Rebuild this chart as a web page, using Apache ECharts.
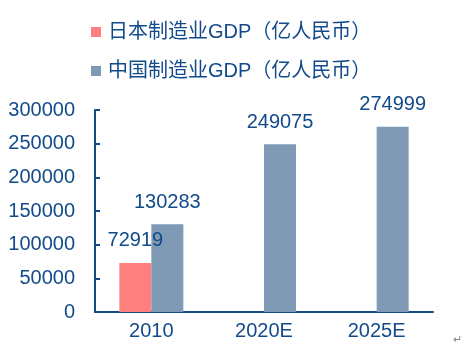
<!DOCTYPE html>
<html><head><meta charset="utf-8">
<script src="https://cdn.jsdelivr.net/npm/echarts@6/dist/echarts.min.js"></script>
<style>html,body{margin:0;padding:0;background:#fff}#c{width:470px;height:347px}</style>
</head><body><div id="c"></div>
<script>
const categories = ['2010', '2020E', '2025E'];
const japanName = '日本制造业GDP（亿人民币）';
const chinaName = '中国制造业GDP（亿人民币）';
const japanValues = [72919, null, null];
const chinaValues = [130283, 249075, 274999];
const yTicks = [0, 50000, 100000, 150000, 200000, 250000, 300000];

const textColor = '#124A8A';
const font = 'Liberation Sans, Arial, sans-serif';
const chart = echarts.init(document.getElementById('c'));
chart.setOption({
  animation: false,
  legend: {
    orient: 'vertical', left: 86, top: 16, itemGap: 17,
    itemWidth: 10, itemHeight: 10, icon: 'rect',
    textStyle: { color: textColor, fontSize: 20, lineHeight: 22, padding: [0, 0, 0, 2],
      fontFamily: 'Liberation Sans, Noto Sans CJK SC, sans-serif' },
    data: [japanName, chinaName]
  },
  grid: { left: 95, right: 37, top: 110, bottom: 35, containLabel: false },
  xAxis: {
    type: 'category', data: categories,
    axisLine: { lineStyle: { color: textColor, width: 2 } },
    axisTick: { inside: false, length: 6, lineStyle: { color: textColor, width: 2 } },
    axisLabel: { color: textColor, fontSize: 20, fontFamily: font, margin: 9 }
  },
  yAxis: {
    type: 'value', min: yTicks[0], max: yTicks[yTicks.length - 1], interval: 50000,
    splitLine: { show: false },
    axisLine: { show: true, lineStyle: { color: textColor, width: 2 } },
    axisTick: { show: true, inside: true, length: 5, lineStyle: { color: textColor, width: 2 } },
    axisLabel: { color: textColor, fontSize: 20, fontFamily: font, margin: 20,
      formatter: v => String(v) }
  },
  series: [
    { name: japanName, type: 'bar', data: japanValues, barWidth: 32, barGap: '0%',
      itemStyle: { color: '#FF7F7F' },
      label: { show: true, position: 'top', distance: 12, color: textColor, fontSize: 20, fontFamily: font } },
    { name: chinaName, type: 'bar', data: chinaValues, barWidth: 32, barGap: '0%',
      itemStyle: { color: '#7F9AB5' },
      label: { show: true, position: 'top', distance: 12, color: textColor, fontSize: 20, fontFamily: font } }
  ],
  graphic: [{ type: 'text', right: 8, bottom: 2, style: { text: '↵', fill: '#888', fontSize: 11 } }]
});
</script></body></html>
